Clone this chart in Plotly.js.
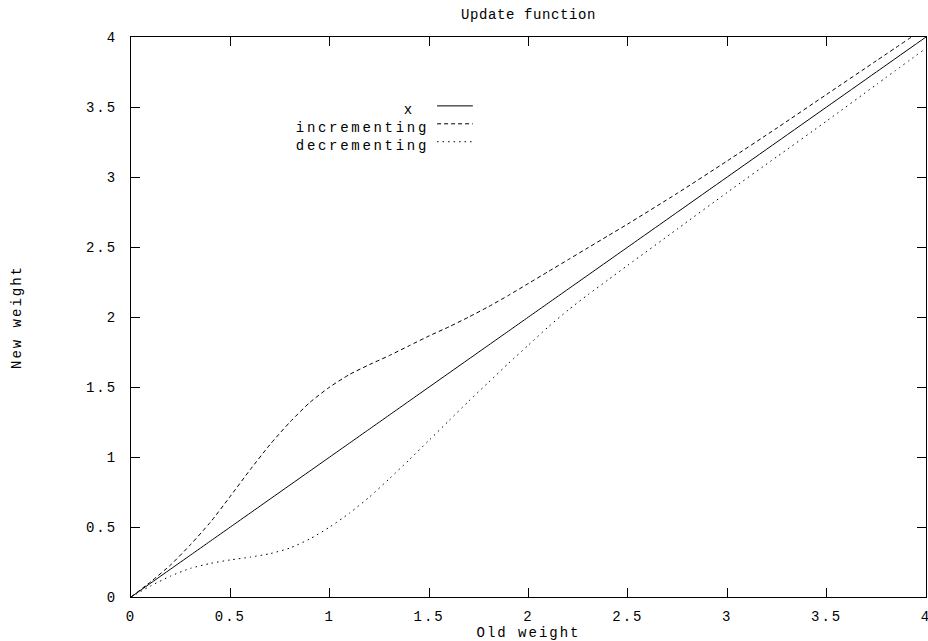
<!DOCTYPE html>
<html>
<head>
<meta charset="utf-8">
<script src="https://cdn.plot.ly/plotly-3.0.1.min.js"></script>
<style>
  html, body { margin: 0; padding: 0; background: #fff; }
  #chart { width: 928px; height: 641px; }
  #chart text { letter-spacing: 2px; }
  #chart .gtitle { letter-spacing: 0.6px; }
  #chart .annotation-text { letter-spacing: 2.7px; }
</style>
</head>
<body>
<div id="chart"></div>
<script>
// ---- data ----
const oldWeight = [0, 0.1, 0.2, 0.3, 0.4, 0.5, 0.6, 0.7, 0.8, 0.9, 1.0, 1.1, 1.2, 1.3, 1.4, 1.5, 1.6, 1.7, 1.8, 1.9, 2.0, 2.1, 2.2, 2.3, 2.4, 2.5, 2.75, 3.0, 3.25, 3.5, 3.75, 4.0];
const identity = [0, 0.1, 0.2, 0.3, 0.4, 0.5, 0.6, 0.7, 0.8, 0.9, 1.0, 1.1, 1.2, 1.3, 1.4, 1.5, 1.6, 1.7, 1.8, 1.9, 2.0, 2.1, 2.2, 2.3, 2.4, 2.5, 2.75, 3.0, 3.25, 3.5, 3.75, 4.0];
const incrementing = [0, 0.11, 0.23, 0.375, 0.535, 0.72, 0.91, 1.09, 1.25, 1.39, 1.50, 1.59, 1.66, 1.725, 1.795, 1.865, 1.93, 2.00, 2.075, 2.155, 2.24, 2.325, 2.41, 2.495, 2.58, 2.665, 2.885, 3.115, 3.35, 3.59, 3.83, 4.07];
const decrementing = [0, 0.08, 0.15, 0.205, 0.24, 0.265, 0.285, 0.31, 0.35, 0.415, 0.50, 0.60, 0.715, 0.845, 0.98, 1.12, 1.26, 1.40, 1.535, 1.67, 1.80, 1.93, 2.05, 2.16, 2.265, 2.37, 2.63, 2.89, 3.145, 3.40, 3.66, 3.92];
const seriesNames = ['x', 'incrementing', 'decrementing'];
const seriesDash = ['solid', '4px,3px', '1.5px,4px'];
const tickVals = [0, 0.5, 1, 1.5, 2, 2.5, 3, 3.5, 4];
const tickText = ['0', '0.5', '1', '1.5', '2', '2.5', '3', '3.5', '4'];
const chartTitle = 'Update function';
const xTitle = 'Old weight';
const yTitle = 'New weight';

const FONT = 'Liberation Mono, Courier New, monospace';
const seriesY = [identity, incrementing, decrementing];

const traces = seriesNames.map((name, i) => ({
  x: oldWeight,
  y: seriesY[i],
  name: name,
  type: 'scatter',
  mode: 'lines',
  line: { color: '#000', width: 1, dash: seriesDash[i], shape: 'spline', smoothing: 0.6 },
  showlegend: false,
  hoverinfo: 'skip'
}));

// manual gnuplot-style legend: right-aligned label then sample line
const legTextX = 0.357, legLineX0 = 0.385, legLineX1 = 0.430;
const legY0 = 0.877, legDy = 0.032, legTextDrop = 0.007;
const annotations = seriesNames.map((name, i) => ({
  xref: 'paper', yref: 'paper',
  x: legTextX, y: legY0 - i * legDy - legTextDrop,
  xanchor: 'right', yanchor: 'middle',
  text: name, showarrow: false,
  font: { family: FONT, size: 14, color: '#000' }
}));
const shapes = seriesNames.map((name, i) => ({
  type: 'line', xref: 'paper', yref: 'paper',
  x0: legLineX0, x1: legLineX1,
  y0: legY0 - i * legDy, y1: legY0 - i * legDy,
  line: { color: '#000', width: 1, dash: seriesDash[i] }
}));

const axisCommon = {
  range: [0, 4],
  tickmode: 'array',
  tickvals: tickVals,
  ticktext: tickText,
  ticks: 'inside',
  ticklen: 9,
  tickwidth: 1,
  tickcolor: '#000',
  mirror: 'allticks',
  showline: true,
  linecolor: '#000',
  linewidth: 1,
  showgrid: false,
  zeroline: false,
  fixedrange: true,
  ticklabeloverflow: 'allow',
  tickfont: { family: FONT, size: 14, color: '#000' },
  automargin: false
};

const layout = {
  width: 928, height: 641,
  margin: { l: 131, r: 2, t: 37, b: 44 },
  paper_bgcolor: '#fff', plot_bgcolor: '#fff',
  font: { family: FONT, size: 14, color: '#000' },
  title: { text: chartTitle, x: 0.5, xref: 'paper', xanchor: 'center', y: 0.978, yref: 'container', yanchor: 'middle',
           font: { family: FONT, size: 14, color: '#000' } },
  xaxis: Object.assign({}, axisCommon, {
    ticklabelstandoff: 6,
    title: { text: xTitle, standoff: 0, font: { family: FONT, size: 14, color: '#000' } }
  }),
  yaxis: Object.assign({}, axisCommon, {
    ticklabelstandoff: 10,
    title: { text: yTitle, standoff: 67, font: { family: FONT, size: 14, color: '#000' } }
  }),
  annotations: annotations,
  shapes: shapes,
  showlegend: false
};

Plotly.newPlot('chart', traces, layout, { staticPlot: true, displayModeBar: false });
</script>
</body>
</html>
